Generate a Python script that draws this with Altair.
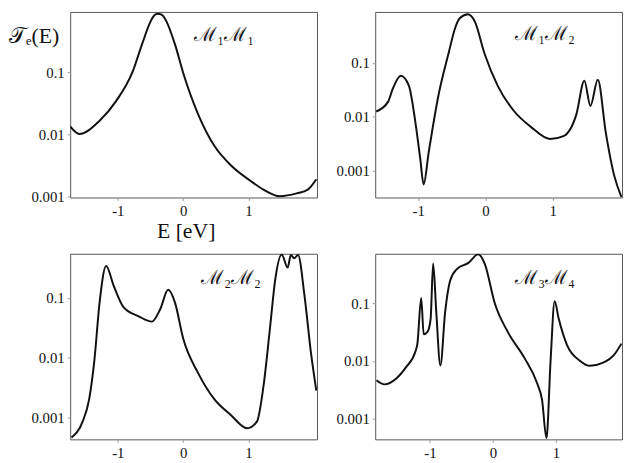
import altair as alt
import pandas as pd

# ---- data ----
E11 = [-1.73, -1.59, -1.28, -1.03, -0.78, -0.63, -0.50, -0.44, -0.39, -0.33, -0.28, -0.125, 0.0, 0.23, 0.48, 0.73, 1.03, 1.23, 1.48, 1.74, 1.91, 2.04]
T11 = [0.0135, 0.0102, 0.0166, 0.034, 0.098, 0.28, 0.65, 0.82, 0.87, 0.84, 0.73, 0.28, 0.098, 0.021, 0.0065, 0.0032, 0.0018, 0.0013, 0.00102, 0.00113, 0.0013, 0.0019]

E12 = [-1.625, -1.45, -1.38, -1.26, -1.14, -1.04, -0.97, -0.92, -0.845, -0.70, -0.55, -0.45, -0.38, -0.26, -0.16, -0.015, 0.18, 0.42, 0.67, 0.96, 1.16, 1.35, 1.47, 1.56, 1.67, 1.79, 1.91, 2.02]
T12 = [0.0126, 0.019, 0.033, 0.058, 0.038, 0.0075, 0.00166, 0.00056, 0.0022, 0.025, 0.15, 0.45, 0.68, 0.80, 0.59, 0.15, 0.038, 0.013, 0.0066, 0.0039, 0.0044, 0.011, 0.047, 0.016, 0.049, 0.005, 0.00085, 0.00033]

E22 = [-1.71, -1.54, -1.44, -1.36, -1.28, -1.18, -1.06, -0.91, -0.68, -0.48, -0.35, -0.23, -0.125, 0.0, 0.23, 0.48, 0.73, 0.98, 1.13, 1.23, 1.33, 1.41, 1.51, 1.60, 1.65, 1.70, 1.76, 1.86, 1.96, 2.04]
T22 = [0.00046, 0.00085, 0.002, 0.0089, 0.083, 0.34, 0.155, 0.069, 0.049, 0.040, 0.065, 0.136, 0.083, 0.021, 0.0055, 0.0020, 0.0011, 0.00066, 0.00085, 0.0033, 0.031, 0.20, 0.53, 0.32, 0.52, 0.46, 0.52, 0.106, 0.0115, 0.0028]

E34 = [-1.85, -1.72, -1.54, -1.38, -1.23, -1.20, -1.14, -1.10, -1.04, -0.99, -0.95, -0.90, -0.835, -0.76, -0.68, -0.57, -0.39, -0.235, -0.13, 0.03, 0.235, 0.50, 0.705, 0.78, 0.85, 0.915, 0.98, 1.045, 1.175, 1.385, 1.54, 1.75, 1.93, 2.04]
T34 = [0.0046, 0.0039, 0.0049, 0.0078, 0.0147, 0.020, 0.125, 0.029, 0.032, 0.054, 0.50, 0.070, 0.0083, 0.070, 0.25, 0.40, 0.51, 0.72, 0.49, 0.10, 0.032, 0.0113, 0.0040, 0.0021, 0.00045, 0.0099, 0.109, 0.054, 0.019, 0.010, 0.0082, 0.0093, 0.013, 0.020]

LABELS = ["ℳ₁ℳ₁", "ℳ₁ℳ₂", "ℳ₂ℳ₂", "ℳ₃ℳ₄"]
XDOMS = [[-1.73, 2.05], [-1.64, 2.03], [-1.73, 2.05], [-1.87, 2.05]]
YDOMS = [[0.00097, 0.93], [0.00032, 0.885], [0.00043, 0.545], [0.00043, 0.735]]
XTICKS = [-1, 0, 1]
YTICKS = [0.001, 0.01, 0.1]
YTITLE = "𝒯ₑ(E)"
XTITLE = "E [eV]"

FONT = "Liberation Serif"
W, H = 250, 188

AXIS_STYLE = dict(domain=False, grid=False, tickColor="#999", tickSize=3, tickWidth=1,
                  labelFont=FONT, labelFontSize=15, labelColor="#111", labelPadding=3)


def panel(E, T, xdom, ydom, label, lx, ly, xtitle=None, ytitle=None):
    df = pd.DataFrame({"E": E, "T": T})
    xaxis = alt.Axis(values=XTICKS, labelExpr="replace(datum.label, '−', '-')", **AXIS_STYLE)
    if xtitle:
        xaxis = alt.Axis(values=XTICKS, labelExpr="replace(datum.label, '−', '-')",
                         titleFontSize=22, titleFont=FONT, titleFontWeight="normal",
                         titlePadding=3, titleX=117, titleColor="#111", **AXIS_STYLE)
    line = alt.Chart(df).mark_line(color="#111", strokeWidth=2, interpolate="monotone", clip=True).encode(
        x=alt.X("E:Q", scale=alt.Scale(domain=xdom, nice=False, zero=False), axis=xaxis, title=xtitle),
        y=alt.Y("T:Q", scale=alt.Scale(type="log", domain=ydom, nice=False),
                axis=alt.Axis(values=YTICKS, format="~g", **AXIS_STYLE), title=None),
    )
    lab = alt.Chart(pd.DataFrame({"lab": [label]})).mark_text(
        font=FONT, fontSize=20, align="center", baseline="alphabetic", color="#111"
    ).encode(text="lab:N", x=alt.value(lx), y=alt.value(ly))
    layers = [line, lab]
    if ytitle:
        yt = alt.Chart(pd.DataFrame({"lab": [ytitle]})).mark_text(
            font=FONT, fontSize=22, align="left", baseline="alphabetic", color="#111"
        ).encode(text="lab:N", x=alt.value(-62), y=alt.value(31))
        layers.append(yt)
    return alt.layer(*layers).properties(width=W, height=H)


p1 = panel(E11, T11, XDOMS[0], YDOMS[0], LABELS[0], 156, 29, xtitle=XTITLE, ytitle=YTITLE)
p2 = panel(E12, T12, XDOMS[1], YDOMS[1], LABELS[1], 172, 28)
p3 = panel(E22, T22, XDOMS[2], YDOMS[2], LABELS[2], 163, 31)
p4 = panel(E34, T34, XDOMS[3], YDOMS[3], LABELS[3], 172, 31)

chart = alt.concat(p1, p2, p3, p4, columns=2, spacing={"row": 57, "column": 59}, bounds="flush").resolve_scale(
    x="independent", y="independent"
).properties(padding=0).configure_view(stroke="#555", strokeWidth=1).configure_axis(**AXIS_STYLE)

chart.save("out.html", embed_options={"renderer": "svg", "actions": False})
